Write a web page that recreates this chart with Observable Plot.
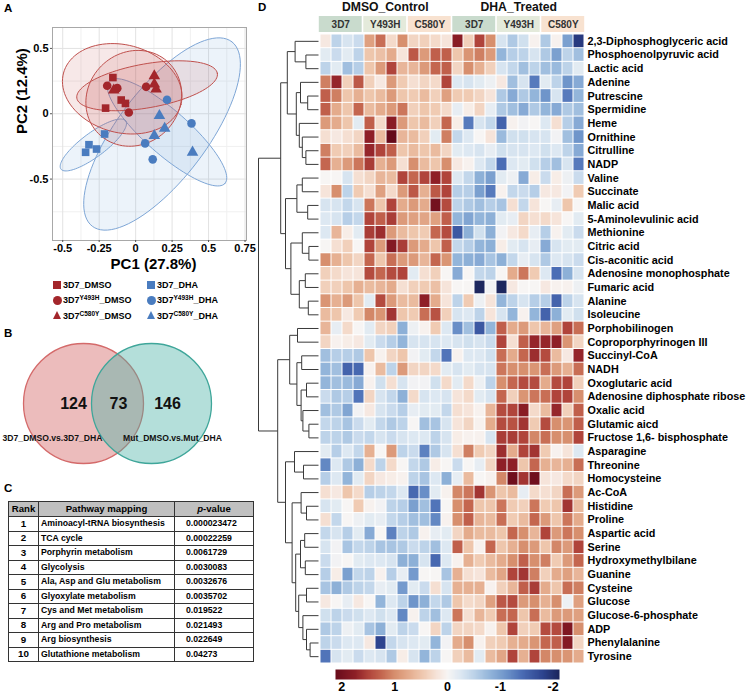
<!DOCTYPE html>
<html><head><meta charset="utf-8">
<script src="https://cdn.jsdelivr.net/npm/d3@7"></script>
<script src="https://cdn.jsdelivr.net/npm/@observablehq/plot@0.6"></script>
<style>
body{margin:0;background:#fff;}
#fig{position:relative;width:747px;height:693px;font-family:"Liberation Sans",Arial,sans-serif;font-weight:bold;color:#000;overflow:hidden;background:#fff;}
.plabel{position:absolute;font-size:11.5px;font-weight:bold;}
.leg{position:absolute;font-size:9px;font-weight:bold;line-height:12px;white-space:nowrap;}
.leg sup{font-size:6.5px;vertical-align:3.5px;line-height:0;}
.mk{position:absolute;}
table.ptab{position:absolute;left:8px;top:501px;width:245px;border-collapse:collapse;border:1.6px solid #222;table-layout:fixed;font-weight:bold;}
table.ptab td,table.ptab th{border:1px solid #333;padding:0;line-height:1;white-space:nowrap;overflow:hidden;}
table.ptab tr{height:14.5px;}
table.ptab tr.h{height:15px;}
table.ptab th{background:#c0c0c0;font-size:9.6px;}
table.ptab td{font-size:8.7px;}
table.ptab td.r{text-align:center;font-size:9.8px;}
table.ptab td.p{padding-left:2px;}
table.ptab td.v{padding-left:11px;}
</style></head>
<body><div id="fig"></div>
<script>
// ---------------- DATA ----------------
// Panel A: PCA scores
const pcaStrain = ["3D7","3D7","3D7","3D7","Y493H","Y493H","Y493H","Y493H","C580Y","C580Y","C580Y","C580Y",
                   "3D7","3D7","3D7","3D7","Y493H","Y493H","Y493H","Y493H","C580Y","C580Y","C580Y","C580Y"];
const pcaTreat = ["DMSO","DMSO","DMSO","DMSO","DMSO","DMSO","DMSO","DMSO","DMSO","DMSO","DMSO","DMSO",
                  "DHA","DHA","DHA","DHA","DHA","DHA","DHA","DHA","DHA","DHA","DHA","DHA"];
const pc1 = [-0.156,-0.206,-0.099,-0.070, -0.195,-0.126,-0.047,0.072, 0.128,0.128,0.140,-0.150,
             -0.320,-0.343,-0.268,-0.213, 0.215,0.383,0.065,0.117, 0.163,0.199,0.128,0.390];
const pc2 = [0.277,0.043,0.105,0.079, 0.214,0.196,0.010,0.206, 0.290,0.227,0.188,0.181,
             -0.237,-0.295,-0.270,-0.155, 0.107,-0.074,-0.227,-0.349, -0.015,-0.112,-0.168,-0.295];
// confidence ellipses: centre and two conjugate semi-axes (PC units)
const ellipseTreat = ["DMSO","DMSO","DMSO","DHA","DHA","DHA"];
const ellipseCenter = [[-0.092,0.191],[-0.013,0.118],[0.0785,0.214],[-0.290,-0.239],[0.181,-0.155],[0.215,-0.142]];
const ellipseU = [[0.4025,-0.1206],[0.2418,0.2702],[0.4816,0.0954],[0.222,0.1847],[0.478,0.706],[0.3975,-0.3908]];
const ellipseV = [[-0.0779,-0.3244],[0.222,-0.248],[0.0262,-0.1656],[0.0492,-0.0733],[0.245,-0.2076],[-0.099,-0.126]];
const pcaXTicks = [-0.5,-0.25,0,0.25,0.5,0.75];
const pcaXMinor = [-0.375,-0.125,0.125,0.375,0.625];
const pcaYTicks = [0.5,0,-0.5];
const pcaYMinor = [0.25,-0.25,-0.75];
const legendStrains = ["3D7","Y493H","C580Y"];
const legendTreat = ["DMSO","DHA"];

// Panel B: Venn
const vennSets = ["3D7_DMSO.vs.3D7_DHA","Mut_DMSO.vs.Mut_DHA"];
const vennCounts = [124, 73, 146];

// Panel C: pathway table
const pathwayRank = [1,2,3,4,5,6,7,8,9,10];
const pathwayName = ["Aminoacyl-tRNA biosynthesis","TCA cycle","Porphyrin metabolism","Glycolysis",
  "Ala, Asp and Glu metabolism","Glyoxylate metabolism","Cys and Met metabolism","Arg and Pro metabolism",
  "Arg biosynthesis","Glutathione metabolism"];
const pathwayP = ["0.000023472","0.00022259","0.0061729","0.0030083","0.0032676","0.0035702","0.019522",
  "0.021493","0.022649","0.04273"];

// Panel D: heatmap
const treatments = ["DMSO_Control","DHA_Treated"];
const strains = ["3D7","Y493H","C580Y"];
const replicates = [1,2,3,4];
const metabolites = ["2,3-Diphosphoglyceric acid","Phosphoenolpyruvic acid","Lactic acid","Adenine","Putrescine",
 "Spermidine","Heme","Ornithine","Citrulline","NADP","Valine","Succinate","Malic acid","5-Aminolevulinic acid",
 "Methionine","Citric acid","Cis-aconitic acid","Adenosine monophosphate","Fumaric acid","Alanine","Isoleucine",
 "Porphobilinogen","Coproporphyrinogen III","Succinyl-CoA","NADH","Oxoglutaric acid","Adenosine diphosphate ribose",
 "Oxalic acid","Glutamic aicd","Fructose 1,6- bisphosphate","Asparagine","Threonine","Homocysteine","Ac-CoA",
 "Histidine","Proline","Aspartic acid","Serine","Hydroxymethylbilane","Guanine","Cysteine","Glucose",
 "Glucose-6-phosphate","ADP","Phenylalanine","Tyrosine"];
const zScores = [
 [0.15,-0.5,-0.3,-0.4, 0.85,1.2,0.3,1.0, 0.35,0.4,0.3,0.2, 1.8,0.4,1.5,1.0, -0.3,-0.6,-0.35,0.05, -0.6,0.05,-1.0,-1.9],
 [-0.2,-0.4,-0.2,-0.5, 0.5,0.55,0.75,0.2, 1.35,0.9,1.3,1.3, 0.5,0.95,1.1,0.9, -0.8,-0.55,-0.5,-0.3, -0.6,-1.0,-0.5,-0.7],
 [-0.5,-0.2,-0.7,-0.55, 0.5,0.9,1.5,0.65, 0.65,0.9,1.25,1.3, 0.35,1.0,0.7,0.4, -0.3,-0.45,-0.7,-0.5, -0.7,-0.75,-0.5,-0.2],
 [1.1,1.7,0.4,1.35, 0.4,0.15,0.9,0.45, 0.25,0.35,0.3,1.5, -0.25,-0.3,-0.2,-0.1, 0.15,-0.7,-0.3,-1.3, -0.2,-0.5,-1.1,-0.9],
 [1.3,1.1,0.5,0.7, 0.5,0.6,0.9,0.5, 0.45,0.6,0.4,0.85, 0.45,0.45,0.35,0.2, -0.6,-0.9,-0.6,-0.8, -1.1,-0.3,-1.3,-0.8],
 [1.3,0.75,0.5,1.25, 0.6,0.75,0.9,1.15, 0.4,0.5,0.45,0.3, -0.15,0.1,0.35,-0.15, -0.6,-0.7,-0.9,-0.6, -0.8,-0.9,-0.6,-0.7],
 [0.9,0.75,0.5,-0.2, 1.3,0.3,1.8,0.9, 0.5,0.6,0.4,1.25, 0.1,-1.3,-0.3,-0.45, -1.5,0.05,-0.05,0.0, -0.25,0.25,-0.55,-0.9],
 [0.25,0.15,0.25,0.35, 1.75,0.6,2.2,0.65, 0.6,0.4,-0.2,1.1, -0.45,-0.25,0.0,0.2, -0.75,-0.35,-0.35,-0.3, -0.3,-0.05,-0.7,-1.1],
 [1.1,0.45,0.4,0.6, 1.7,1.5,1.3,0.5, 0.6,0.5,0.6,0.35, -0.2,-0.25,-0.3,-0.15, -0.35,-0.3,-0.3,-0.25, -0.35,-0.25,-0.5,-0.9],
 [1.25,0.7,0.9,1.15, 1.55,0.7,0.9,0.25, 1.0,0.6,0.5,1.0, 0.15,0.05,-0.25,-0.45, -1.4,-0.25,-0.2,-0.35, -0.55,-0.7,-0.3,-1.3],
 [0.0,0.0,-0.3,0.25, 0.35,0.65,0.6,1.5, 1.25,1.5,1.75,1.5, -0.25,-0.45,-0.85,-1.0, -0.2,-0.1,-0.9,0.1, -0.4,0.1,-0.1,-0.4],
 [0.2,1.0,-0.5,0.45, 0.25,0.85,0.3,0.9, 1.35,0.7,1.35,1.5, -0.55,-0.55,-1.0,-1.3, 0.05,-0.45,-0.4,-0.55, 0.15,0.15,-0.05,0.45],
 [-0.3,-0.3,-0.45,-0.3, 1.15,0.5,1.5,0.75, 0.9,0.75,2.0,1.45, -0.5,-0.6,-0.7,-0.55, -0.65,0.25,-0.45,0.2, 0.0,-0.15,0.5,0.0],
 [-0.25,-0.3,-0.55,-0.45, 1.5,1.3,1.55,0.9, 0.85,0.8,0.85,1.3, -0.8,-0.95,-0.8,-0.85, -0.2,-0.15,0.35,0.25, 0.3,0.2,0.0,-0.2],
 [-0.25,0.65,0.1,-0.2, 1.55,1.65,0.9,0.6, 0.5,0.45,1.25,1.45, -1.6,-0.85,-0.35,-0.85, -0.05,0.15,0.3,-0.15, -0.55,0.05,-0.2,-0.4],
 [0.0,0.25,0.4,0.0, 1.5,0.9,1.85,1.55, 0.9,0.75,0.5,1.3, -0.45,-0.55,-0.8,-0.85, 0.1,-0.2,-0.3,-0.15, -0.9,-0.3,-0.2,-0.2],
 [1.0,0.7,0.5,0.35, 1.25,0.5,1.2,0.9, 0.9,0.65,1.25,0.95, -0.8,-0.85,-0.9,-0.65, -0.85,-0.45,-0.15,-0.3, -0.6,-0.25,-0.3,-0.4],
 [0.4,0.3,0.2,0.2, 1.45,1.25,1.45,1.5, -0.2,0.25,0.4,0.0, -0.9,0.0,-0.45,-0.5, 0.0,0.75,1.15,0.45, -0.25,-1.4,-0.85,-0.3],
 [0.4,0.4,0.5,0.7, 0.6,0.65,0.75,0.25, 0.4,0.45,0.55,0.2, 0.0,0.0,-2.1,-0.05, -2.1,0.15,0.0,0.0, 0.15,0.05,0.05,-0.1],
 [0.95,0.7,0.9,0.5, -0.2,1.45,0.9,0.6, 0.6,1.75,0.75,0.2, -0.5,0.45,-0.1,0.2, -0.8,-0.5,-0.3,-0.55, -0.55,-1.5,-0.5,-0.3],
 [0.6,0.5,0.15,0.45, 1.05,0.95,1.6,0.5, 0.45,1.2,1.4,0.4, -0.3,-0.25,-0.5,0.2, -0.3,-0.8,0.05,-0.8, -1.5,-0.85,-0.2,-0.35],
 [0.65,-0.15,0.3,0.0, -0.2,0.35,0.4,-0.85, -0.1,0.05,0.45,-0.25, -1.15,-0.7,-1.6,-0.8, 1.3,0.75,0.9,0.5, 0.65,0.85,1.5,1.2],
 [0.35,0.05,0.1,0.15, -0.2,-0.4,-0.55,-0.8, -0.3,-0.3,-0.3,-0.25, -0.3,-0.35,-0.3,-0.4, 1.5,0.25,1.3,1.7, 1.7,1.75,0.95,0.35],
 [-0.7,-0.55,-0.55,-0.6, 0.5,0.05,0.35,0.5, -0.05,-0.2,-0.45,-1.35, 0.05,-0.25,-0.25,-0.35, 1.2,0.75,1.25,1.65, 1.45,0.6,0.15,1.7],
 [-0.8,-0.7,-1.5,-1.45, 0.05,0.6,-0.5,0.9, 0.35,0.35,0.3,-0.2, -0.3,-0.2,-0.3,-0.3, 1.15,1.0,1.0,0.95, 1.2,0.9,0.7,1.2],
 [-0.8,-0.7,-0.75,-0.9, 0.05,-0.35,0.25,-0.3, -0.05,-0.05,-0.35,0.3, -0.2,0.3,-0.1,-0.5, 1.0,1.25,1.45,1.45, 0.75,1.45,1.5,0.4],
 [-0.4,-0.6,-0.55,-1.35, 0.35,-0.3,-0.45,-0.85, 0.3,-0.3,-0.25,-0.3, 0.2,0.3,-0.2,-0.3, 1.25,0.4,0.95,1.15, 1.2,1.5,1.5,1.0],
 [-0.7,-0.6,-0.95,-0.05, 0.15,-0.3,-0.4,-0.55, -0.15,-0.2,-0.2,-0.45, 0.25,0.2,0.05,0.65, 1.45,1.5,1.8,0.3, 0.6,1.7,0.4,1.3],
 [-0.45,-0.5,-0.65,-0.4, -0.2,-0.45,-0.6,-0.5, 0.0,-0.7,-0.65,-0.3, 0.2,0.35,0.05,0.75, 1.45,1.4,1.6,0.45, 1.45,1.0,0.95,1.3],
 [-0.5,-0.5,-0.6,-0.4, -0.45,-0.3,-0.4,-0.3, -0.25,-0.25,-0.5,-0.3, 0.1,0.05,0.05,-0.3, 1.55,1.55,1.5,1.05, 1.2,1.0,1.0,1.5],
 [-0.2,-0.55,-0.25,-0.45, 0.7,0.0,0.9,-0.5, -0.4,-1.25,-0.6,-0.3, 0.25,1.1,0.45,0.35, 1.65,0.75,1.5,1.6, 0.45,0.05,0.2,-0.25],
 [-1.2,-0.25,-0.6,-0.85, 0.3,-0.5,0.3,0.0, -0.45,-0.6,0.1,0.0, -0.4,0.0,-0.15,0.35, 1.75,1.75,0.5,1.25, 0.7,0.65,0.7,1.2],
 [-0.55,-0.25,-0.8,-0.2, 0.35,0.15,0.1,0.05, -0.5,-0.65,-0.25,-0.85, -0.15,0.6,0.0,0.05, 1.05,2.05,1.6,2.05, 0.2,0.15,0.3,0.35],
 [0.25,0.15,0.5,0.3, -0.55,-0.5,-0.45,-0.25, -1.45,-1.15,-0.2,0.05, 1.05,1.15,1.6,0.95, 0.5,0.6,-0.15,0.3, 0.25,0.35,1.2,0.9],
 [-0.3,-0.2,0.0,0.45, 0.05,-0.05,-0.5,-0.55, -1.0,-0.7,-1.35,0.0, 1.0,1.25,0.5,0.5, 1.15,0.45,0.4,1.15, 0.45,0.5,1.6,0.6],
 [0.25,-0.45,0.0,-0.1, -0.2,-0.15,-0.45,-0.55, -0.7,-0.7,-1.2,0.05, 1.0,1.3,0.65,0.6, 1.2,0.45,0.6,1.25, 0.9,0.5,1.15,0.75],
 [-0.45,-0.3,-0.55,-0.2, -0.9,0.0,-1.25,-0.5, -0.6,0.05,-0.15,-0.2, 0.35,0.75,0.6,0.6, 0.5,1.25,1.0,0.65, 1.5,0.9,1.15,1.0],
 [-0.3,-0.05,-0.65,-0.45, -0.5,-0.65,-0.65,-0.6, -0.4,-0.5,-0.7,-0.25, 1.3,0.5,0.05,1.25, 0.5,0.7,1.0,0.9, 0.5,1.05,0.9,1.5],
 [-0.4,-0.05,0.0,-0.2, -0.25,-0.25,-0.3,-0.85, -0.85,-0.3,-1.45,-0.25, 0.05,0.7,0.45,0.6, 0.75,1.0,1.3,1.0, 1.1,0.45,0.9,1.25],
 [-0.55,0.1,-1.0,-0.45, -0.5,0.05,-0.55,-0.15, -1.05,0.0,0.0,-0.65, 0.7,0.25,0.2,0.6, 0.8,1.5,1.6,1.1, 0.4,0.75,0.85,0.65],
 [-0.65,-0.85,-0.6,-0.5, -0.45,-0.15,-0.2,-1.05, -0.2,-0.4,0.25,-0.3, 0.7,0.7,0.7,0.05, 0.4,0.65,1.3,1.55, 0.75,0.5,1.2,1.1],
 [0.15,0.0,-0.15,0.15, 0.0,-0.8,-0.25,-0.5, -1.1,-0.85,-0.45,-0.6, 0.5,0.3,0.35,0.85, 1.35,1.45,0.9,1.0, 0.7,1.0,-0.1,0.85],
 [-0.35,-0.5,-0.4,-0.35, -0.25,-0.35,-0.25,-1.2, 0.05,-0.5,-0.7,-0.25, 1.15,0.25,0.65,0.45, 1.2,1.25,0.5,1.2, 0.6,0.9,0.9,0.85],
 [-0.6,-0.5,-0.1,-0.2, -0.65,-0.85,-0.2,-0.5, -0.4,0.0,0.35,-0.5, 0.35,0.35,0.3,0.05, 0.5,1.5,0.4,0.45, 1.45,1.45,1.9,1.0],
 [-0.5,-0.4,-0.25,-0.25, 0.15,-1.8,-0.45,-0.3, -0.25,-0.2,-0.8,-0.05, 0.75,1.0,0.05,0.4, 0.45,0.7,0.75,0.95, 1.25,1.3,1.85,0.35],
 [-1.35,-0.3,-0.2,-0.4, -0.25,-0.3,-0.6,0.1, -0.3,-0.8,-0.5,0.0, 0.4,0.6,-0.2,0.6, 0.8,1.5,0.7,1.5, 1.05,1.0,0.95,0.75]
];
// row dendrogram: [mergeHeight, left, right]; leaves are 1-based row numbers
const dendrogramTree =
[10,
  [6.3,
    [5.2, [3.9, 1, [2.1, 2, 3]], [3.7, [3.0, 4, [1.8, 5, 6]], [3.2, 7, [2.7, 8, [2.1, 9, 10]]]]],
    [5.5, [3.6, [2.7, 11, 12], [1.8, 13, 14]], [4.6, [2.7, 15, [1.6, 16, 17]], [3.2, [2.2, 18, 19], [1.7, 20, 21]]]]
  ],
  [6.8,
    [4.8, [3.5, 22, 23], [3.6, [2.8, 24, 25], [2.9, [2.0, 26, 27], [2.6, 28, [1.6, 29, 30]]]]],
    [5.5, [4.0, 31, [2.5, 32, 33]],
      [4.4, [2.9, 34, [2.0, 35, 36]],
        [3.8, [3.0, [2.3, 37, 38], [2.2, 39, 40]], [3.3, [2.0, 41, 42], [2.6, 43, [2.0, 44, [1.4, 45, 46]]]]]]]
  ]
];
const colorbarTicks = [2, 1, 0, -1, -2];

// ---------------- STYLE / HELPERS ----------------
const FONT = "'Liberation Sans', Arial, sans-serif";
const RED = "#a3262b", BLUE = "#4a7cbf";
const fig = document.getElementById("fig");
function put(node, left, top) {
  Object.assign(node.style, {position: "absolute", left: left + "px", top: top + "px",
    background: "transparent", overflow: "visible", maxWidth: "none", fontFamily: FONT});
  fig.appendChild(node);
  return node;
}
function label(txt, left, top) {
  const d = document.createElement("div"); d.className = "plabel"; d.textContent = txt;
  d.style.left = left + "px"; d.style.top = top + "px"; fig.appendChild(d);
}
const heatColor = {
  type: "linear", interpolate: "rgb", clamp: true,
  domain: [2.15, 1.75, 1.5, 1.25, 1.0, 0.7, 0.45, 0.2, 0, -0.25, -0.5, -0.8, -1.1, -1.4, -1.8, -2.15],
  range: ["#650a1a","#8e1f27","#b0443b","#c4664f","#d78f6e","#e6b092","#f0cbb3","#f6e4da","#f7f5f4",
          "#dde8f2","#bdd3e9","#93b5da","#6f95ca","#4b6db5","#2e448f","#1a2256"]
};

// ---------------- PANEL A ----------------
label("A", 4, 2);
const samples = pc1.map((x, i) => ({pc1: x, pc2: pc2[i], strain: pcaStrain[i], treatment: pcaTreat[i]}));
const ellipsePts = [];
ellipseCenter.forEach((c, e) => {
  for (let k = 0; k <= 96; ++k) {
    const t = 2 * Math.PI * k / 96;
    ellipsePts.push({id: e, treatment: ellipseTreat[e],
      x: c[0] + ellipseU[e][0] * Math.cos(t) + ellipseV[e][0] * Math.sin(t),
      y: c[1] + ellipseU[e][1] * Math.cos(t) + ellipseV[e][1] * Math.sin(t)});
  }
});
const pca = Plot.plot({
  width: 250, height: 280, marginLeft: 52, marginRight: 4, marginTop: 27, marginBottom: 40,
  style: {fontFamily: FONT},
  x: {domain: [-0.57, 0.76]},
  y: {domain: [-0.97, 0.66]},
  color: {domain: legendTreat, range: [RED, BLUE]},
  symbol: {domain: legendStrains, range: ["square", "circle", "triangle"]},
  marks: [
    Plot.gridX(pcaXMinor, {stroke: "#f0f0f0", strokeOpacity: 1}),
    Plot.gridY(pcaYMinor, {stroke: "#f0f0f0", strokeOpacity: 1}),
    Plot.gridX(pcaXTicks, {stroke: "#e2e2e2", strokeOpacity: 1}),
    Plot.gridY(pcaYTicks, {stroke: "#e2e2e2", strokeOpacity: 1}),
    Plot.line(ellipsePts.filter(d => d.treatment === "DHA"), {x: "x", y: "y", z: "id", curve: "linear-closed",
      fill: "#6fa3d6", fillOpacity: 0.13, stroke: "#7ea6d6", strokeWidth: 1}),
    Plot.line(ellipsePts.filter(d => d.treatment === "DMSO"), {x: "x", y: "y", z: "id", curve: "linear-closed",
      fill: "#c04b4b", fillOpacity: 0.13, stroke: "#c0504d", strokeWidth: 1}),
    Plot.frame({stroke: "#a8a8a8"}),
    Plot.axisX(pcaXTicks, {tickSize: 2, tickPadding: 2, fontSize: 11, fontWeight: "bold", label: null, tickFormat: d => String(d), stroke: "#555"}),
    Plot.axisY(pcaYTicks, {tickSize: 2, tickPadding: 2, fontSize: 11, fontWeight: "bold", label: null, tickFormat: d => String(d), stroke: "#555"}),
    Plot.dot(samples, {x: "pc1", y: "pc2", symbol: "strain", fill: "treatment", r: 4.3, stroke: "none"}),
    Plot.text(["PC1 (27.8%)"], {frameAnchor: "bottom", dy: 28, dx: 4, fontSize: 15, fontWeight: "bold"}),
    Plot.text(["PC2 (12.4%)"], {frameAnchor: "left", dx: -30, rotate: -90, fontSize: 15, fontWeight: "bold"})
  ]
});
put(pca, 0, 0);

// legend
legendStrains.forEach((s, r) => legendTreat.forEach((t, c) => {
  const col = t === "DMSO" ? RED : BLUE;
  const cy = 285 + r * 15.3;
  const mkx = c === 0 ? 57 : 151;
  const m = document.createElement("div"); m.className = "mk";
  if (s === "3D7") Object.assign(m.style, {width: "8px", height: "8px", background: col, left: (mkx - 4) + "px", top: (cy - 4) + "px"});
  else if (s === "Y493H") Object.assign(m.style, {width: "9px", height: "9px", borderRadius: "50%", background: col, left: (mkx - 4.5) + "px", top: (cy - 4.5) + "px"});
  else Object.assign(m.style, {width: 0, height: 0, borderLeft: "4.5px solid transparent", borderRight: "4.5px solid transparent", borderBottom: "8px solid " + col, left: (mkx - 4.5) + "px", top: (cy - 4.5) + "px"});
  fig.appendChild(m);
  const d = document.createElement("div"); d.className = "leg";
  d.innerHTML = s === "3D7" ? `3D7_${t}` : `3D7<sup>${s}</sup>_${t}`;
  d.style.left = (mkx + 6) + "px"; d.style.top = (cy - 6) + "px";
  fig.appendChild(d);
}));

// ---------------- PANEL B ----------------
label("B", 4, 327);
const vennLayout = {r: 60, cx: [83, 151], cy: 68, countX: [73, 118, 167], labelX: [52, 172], labelY: 103};
const venn = Plot.plot({
  width: 260, height: 135, margin: 0,
  x: {type: "identity", axis: null}, y: {type: "identity", axis: null},
  style: {fontFamily: FONT},
  marks: [
    Plot.dot(vennSets, {x: (d, i) => vennLayout.cx[i], y: () => vennLayout.cy, r: vennLayout.r,
      fill: (d, i) => ["#d25f5f", "#4db3a8"][i], fillOpacity: 0.42,
      stroke: (d, i) => ["#d46a6a", "#3fa69a"][i], strokeWidth: 1.3}),
    Plot.text(vennCounts, {x: (d, i) => vennLayout.countX[i], y: () => vennLayout.cy, text: d => String(d),
      fontSize: 16, fontWeight: "bold", fill: "#111"}),
    Plot.text(vennSets, {x: (d, i) => vennLayout.labelX[i], y: () => vennLayout.labelY, text: d => d,
      fontSize: 8.6, fontWeight: "bold", fill: "#111"})
  ]
});
put(venn, 0, 335);

// ---------------- PANEL C ----------------
label("C", 4, 482);
{
  let html = `<colgroup><col style="width:30px"><col style="width:136px"><col style="width:79px"></colgroup>`;
  html += `<tr class="h"><th>Rank</th><th>Pathway mapping</th><th><i>p</i>-value</th></tr>`;
  pathwayRank.forEach((r, i) => {
    html += `<tr><td class="r">${r}</td><td class="p">${pathwayName[i]}</td><td class="v">${pathwayP[i]}</td></tr>`;
  });
  const t = document.createElement("table"); t.className = "ptab"; t.innerHTML = html; fig.appendChild(t);
}

// ---------------- PANEL D ----------------
label("D", 258, 1);
const columns = [];
treatments.forEach(t => strains.forEach(s => replicates.forEach(r => columns.push(`${t}|${s}|${r}`))));
const cells = [];
metabolites.forEach((m, i) => zScores[i].forEach((v, j) => cells.push({metabolite: m, column: columns[j], z: v})));

// header: treatment titles + strain bars
const strainGroups = [], treatGroups = [];
treatments.forEach((t, ti) => {
  treatGroups.push({label: t, start: ti * strains.length * replicates.length, end: (ti + 1) * strains.length * replicates.length, row: "treatment"});
  strains.forEach((s, si) => {
    const start = (ti * strains.length + si) * replicates.length;
    strainGroups.push({label: s, start, end: start + replicates.length, row: "strain"});
  });
});
const header = Plot.plot({
  width: 429, height: 34, marginLeft: 0, marginRight: 162, marginTop: 0, marginBottom: 2,
  style: {fontFamily: FONT},
  x: {domain: [0, columns.length], axis: null},
  y: {domain: ["treatment", "strain"], padding: 0, axis: null},
  color: {domain: strains, range: ["#c9dbcd", "#e4eadb", "#f8e2d0"]},
  marks: [
    Plot.barX(strainGroups, {x1: "start", x2: "end", y: "row", fill: "label", insetLeft: 0.8, insetRight: 0.8}),
    Plot.text(strainGroups, {x: d => (d.start + d.end) / 2, y: "row", text: "label", fontSize: 10, fontWeight: "bold", fill: "#333"}),
    Plot.text(treatGroups, {x: d => (d.start + d.end) / 2, y: "row", text: "label", fontSize: 12.2, fontWeight: "bold", fill: "#111", dy: -1})
  ]
});
put(header, 318, 0);

const heat = Plot.plot({
  width: 429, height: 629, marginLeft: 0, marginRight: 162, marginTop: 0, marginBottom: 0,
  style: {fontFamily: FONT},
  x: {domain: columns, padding: 0, axis: null},
  y: {domain: metabolites, padding: 0},
  color: heatColor,
  marks: [
    Plot.cell(cells, {x: "column", y: "metabolite", fill: "z", inset: 0.5}),
    Plot.axisY({anchor: "right", tickSize: 0, tickPadding: 2, fontSize: 10.8, fontWeight: "bold", label: null, fill: "#000"})
  ]
});
put(heat, 318, 34);

// dendrogram
const segs = [];
function walk(node) {
  if (typeof node === "number") return {h: 0, y: node - 0.5};
  const [h, a, b] = node;
  const A = walk(a), B = walk(b);
  segs.push({x1: h, y1: A.y, x2: h, y2: B.y});
  segs.push({x1: h, y1: A.y, x2: A.h, y2: A.y});
  segs.push({x1: h, y1: B.y, x2: B.h, y2: B.y});
  return {h, y: (A.y + B.y) / 2};
}
walk(dendrogramTree);
const dendro = Plot.plot({
  width: 70, height: 629, marginLeft: 6, marginRight: 4, marginTop: 0, marginBottom: 0,
  x: {domain: [10, 0], axis: null},
  y: {domain: [0, metabolites.length], reverse: true, axis: null},
  marks: [Plot.link(segs, {x1: "x1", y1: "y1", x2: "x2", y2: "y2", stroke: "#3a3a3a", strokeWidth: 1})]
});
put(dendro, 252, 34);

// colour bar
const cbar = Plot.plot({
  width: 255, height: 25, marginLeft: 15, marginRight: 16, marginTop: 0, marginBottom: 15,
  style: {fontFamily: FONT},
  x: {domain: [2.12, -2.12]},
  y: {domain: [0, 1], axis: null},
  color: heatColor,
  marks: [
    Plot.raster({x1: 2.12, x2: -2.12, y1: 0, y2: 1, width: 240, height: 1, fill: (x, y) => x, imageRendering: "auto"}),
    Plot.axisX(colorbarTicks, {tickSize: 0, tickPadding: 3, fontSize: 12.5, fontWeight: "bold", label: null, tickFormat: d => String(d)})
  ]
});
put(cbar, 320, 669);
</script></body></html>
